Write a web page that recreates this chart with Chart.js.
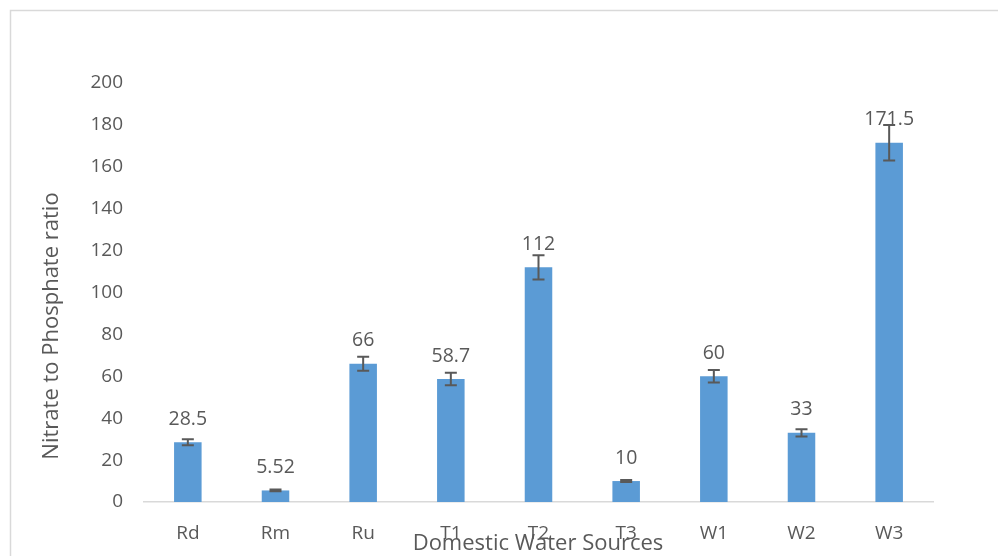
<!DOCTYPE html>
<html>
<head>
<meta charset="utf-8">
<script src="https://cdn.jsdelivr.net/npm/chart.js@4"></script>
<style>
  html, body { margin: 0; padding: 0; background: #fff; }
  #wrap { width: 998px; height: 556px; position: relative; }
</style>
</head>
<body>
<div id="wrap"><canvas id="chart" width="998" height="556"></canvas></div>
<script>
const categories = ['Rd', 'Rm', 'Ru', 'T1', 'T2', 'T3', 'W1', 'W2', 'W3'];
const ratioValues = [28.5, 5.52, 66, 58.7, 112, 10, 60, 33, 171.5];
const errorValues = [1.4, 0.4, 3.3, 3, 5.8, 0.5, 3, 1.7, 8.5];
const yTicks = [0, 20, 40, 60, 80, 100, 120, 140, 160, 180, 200];

const FONT = '"Open Sans", "Liberation Sans", sans-serif';
const TEXT = '#595959';

// border, error bars, value labels and axis titles
const extras = {
    id: 'extras',
    beforeDraw(chart) {
        const ctx = chart.ctx;
        ctx.save();
        ctx.strokeStyle = '#d9d9d9';
        ctx.lineWidth = 1.5;
        ctx.strokeRect(10.5, 10.5, 1100, 1100);
        ctx.restore();
    },
    afterDatasetsDraw(chart) {
        const ctx = chart.ctx;
        const x = chart.scales.x, y = chart.scales.y;
        ctx.save();
        ctx.strokeStyle = '#595959';
        ctx.lineWidth = 2;
        ratioValues.forEach((v, i) => {
            const cx = x.getPixelForValue(i);
            const top = y.getPixelForValue(v + errorValues[i]);
            const bot = y.getPixelForValue(v - errorValues[i]);
            ctx.beginPath();
            ctx.moveTo(cx, top); ctx.lineTo(cx, bot);
            ctx.moveTo(cx - 6, top); ctx.lineTo(cx + 6, top);
            ctx.moveTo(cx - 6, bot); ctx.lineTo(cx + 6, bot);
            ctx.stroke();
        });
        ctx.fillStyle = TEXT;
        ctx.font = '19.5px ' + FONT;
        ctx.textAlign = 'center';
        ctx.textBaseline = 'middle';
        ratioValues.forEach((v, i) => {
            ctx.fillText(String(v), x.getPixelForValue(i), y.getPixelForValue(v) - 23);
        });
        // axis titles
        ctx.font = '22px ' + FONT;
        ctx.fillText('Domestic Water Sources', 538, 544);
        ctx.translate(52, 326);
        ctx.rotate(-Math.PI / 2);
        ctx.fillText('Nitrate to Phosphate ratio', 0, 0);
        ctx.restore();
    }
};

new Chart(document.getElementById('chart'), {
    type: 'bar',
    data: {
        labels: categories,
        datasets: [{
            label: 'Nitrate to Phosphate ratio',
            data: ratioValues,
            backgroundColor: '#5b9bd5',
            borderWidth: 0,
            categoryPercentage: 1,
            barPercentage: 0.314
        }]
    },
    options: {
        responsive: false,
        animation: false,
        layout: { padding: { left: 0, top: 83, right: 65, bottom: 0 } },
        plugins: { legend: { display: false }, tooltip: { enabled: false } },
        scales: {
            x: {
                grid: { display: false, drawTicks: false },
                border: { display: true, color: '#d9d9d9', width: 1.5 },
                ticks: { color: TEXT, font: { family: FONT, size: 19 }, padding: 20 },
                afterFit(s) { s.height = 54; }
            },
            y: {
                min: 0,
                max: 200,
                afterBuildTicks(s) { s.ticks = yTicks.map(v => ({ value: v })); },
                grid: { display: false, drawTicks: false },
                border: { display: false },
                ticks: { color: TEXT, font: { family: FONT, size: 19 }, padding: 21 },
                afterFit(s) { s.width = 144; }
            }
        }
    },
    plugins: [extras]
});
</script>
</body>
</html>
